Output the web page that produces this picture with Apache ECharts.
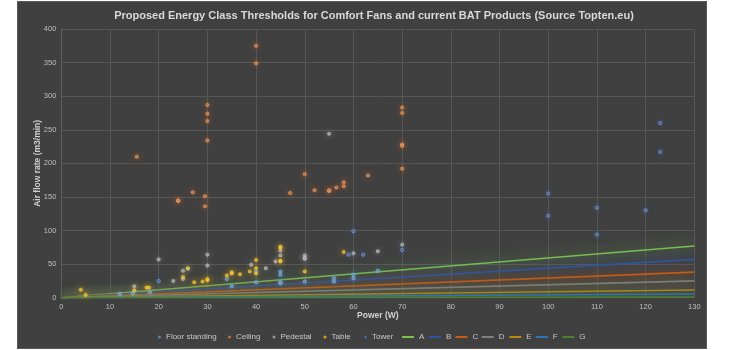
<!DOCTYPE html>
<html><head><meta charset="utf-8">
<script src="https://cdn.jsdelivr.net/npm/echarts@6/dist/echarts.min.js"></script>
<style>
html,body{margin:0;padding:0;background:#fff;width:730px;height:350px;overflow:hidden;}
#bg{position:absolute;left:17px;top:1px;width:688px;height:346px;background:#404040;border:1px solid #595959;}
#c{position:absolute;left:0;top:0;width:730px;height:350px;}
</style></head>
<body><div id="bg"></div><div id="c"></div>
<script>
var titleText = 'Proposed Energy Class Thresholds for Comfort Fans and current BAT Products (Source Topten.eu)';
var xName = 'Power (W)';
var yName = 'Air flow rate (m3/min)';
var xTicks = {min: 0, max: 130, step: 10};
var yTicks = {min: 0, max: 400, step: 50};

var floorStanding = [[12,5.5],[14.7,6.5],[18.2,8],[26,43],[34,28],[35,17],[40,39],[40,23],[45,39],[45,34],[45,22],[45,23],[50,24],[56,29],[56,24],[60,34],[60,29],[65,40]];
var ceiling = [[15.5,210],[24,144],[24,145],[27,157],[29.5,151],[29.5,136],[30,287],[30,274],[30,263],[30,234],[40,375],[40,349],[47,156],[50,184],[52,160],[55,159],[55,160],[56.5,164],[58,172],[58,166],[63,182],[70,283],[70,275],[70,228],[70,226],[70,192]];
var pedestal = [[15,17],[20,57],[23,25],[25,40],[25,28],[30,64],[30,48],[39,49],[42,44],[44,54],[45,70],[45,63],[50,63],[50,58],[50,59],[55,244],[60,66],[65,69],[70,79]];
var table = [[4,12],[5,4],[15,11],[17.5,15],[18,15],[25,31],[26,44],[27.3,23],[29,24],[30,26],[30,28],[34,33],[35,36],[35,38],[36.7,35],[38.7,39],[40,56],[40,44],[40,36],[45,76],[45,74],[45,55],[45,54],[50,39],[58,68]];
var tower = [[20,25],[59,64],[60,99],[62,64],[70,71],[100,155],[100,122],[110,134],[110,94],[120,130],[123,260],[123,217]];

var linePowers = [0, 130];
var lineA = [0, 77];
var lineB = [0, 57];
var lineC = [0, 38];
var lineD = [0, 25];
var lineE = [0, 11.5];
var lineF = [0, 5.5];
var lineG = [0, 1];

var scatterNames = ['Floor standing','Ceiling','Pedestal','Table','Tower'];
var scatterData = [floorStanding, ceiling, pedestal, table, tower];
var scatterColors = ['#5B9BD5','#ED7D31','#B0B0B0','#FFC000','#4472C4'];
var lineNames = ['A','B','C','D','E','F','G'];
var lineData = [lineA, lineB, lineC, lineD, lineE, lineF, lineG];
var lineColors = ['#7CC150','#2E54A0','#C55A11','#7F7F7F','#B8890A','#2E75B6','#4E7F2E'];

var FONT = '"Liberation Sans", Arial, sans-serif';
var series = [];
lineNames.forEach(function(n, i){
  series.push({
    name: n, type: 'line', symbol: 'none', silent: true,
    data: linePowers.map(function(p, k){ return [p, lineData[i][k]]; }),
    lineStyle: {color: lineColors[i], width: 1.6, shadowBlur: 14, shadowColor: lineColors[i]},
    itemStyle: {color: lineColors[i]}, z: 2
  });
});
scatterNames.forEach(function(n, i){
  series.push({
    name: n, type: 'scatter', symbol: 'circle', symbolSize: 3.5,
    data: scatterData[i],
    itemStyle: {color: scatterColors[i], borderColor: 'rgba(255,255,255,0.5)', borderWidth: 0.6, shadowBlur: 6, shadowColor: scatterColors[i]},
    z: 3
  });
});

var scatterLegendX = [158, 228, 272.5, 323.5, 364];
var lineLegendX = [402, 429, 455.5, 481.7, 509.3, 535.7, 562.3];
var legends = [];
scatterNames.forEach(function(n, i){
  legends.push({data: [{name: n, icon: 'circle', itemStyle: {shadowBlur: 0, borderWidth: 0}}], left: scatterLegendX[i], top: 333, padding: 0,
    itemWidth: 3, itemHeight: 3, textStyle: {color: '#c8c8c8', fontSize: 8, fontFamily: FONT}});
});
lineNames.forEach(function(n, i){
  legends.push({data: [{name: n, icon: 'rect'}], left: lineLegendX[i], top: 333, padding: 0,
    itemWidth: 12, itemHeight: 2, textStyle: {color: '#c8c8c8', fontSize: 8, fontFamily: FONT}});
});

var chart = echarts.init(document.getElementById('c'), null, {renderer: 'canvas'});
chart.setOption({
  backgroundColor: 'transparent',
  animation: false,
  title: {text: titleText, left: 374, top: 10, padding: 0, textAlign: 'center',
    textStyle: {color: '#d9d9d9', fontSize: 11, fontWeight: 'bold', fontFamily: FONT}},
  grid: {left: 61.3, right: 35.7, top: 29, bottom: 52.3},
  legend: legends,
  xAxis: {type: 'value', min: xTicks.min, max: xTicks.max, interval: xTicks.step,
    name: xName, nameLocation: 'middle', nameGap: 13, nameMoveOverlap: false,
    nameTextStyle: {color: '#d0d0d0', fontSize: 8.5, fontWeight: 'bold', fontFamily: FONT},
    axisLine: {lineStyle: {color: '#5e5e5e'}}, axisTick: {show: false},
    axisLabel: {color: '#bfbfbf', fontSize: 7.5, margin: 5, fontFamily: FONT},
    splitLine: {show: true, lineStyle: {color: '#575757'}}},
  yAxis: {type: 'value', min: yTicks.min, max: yTicks.max, interval: yTicks.step,
    name: yName, nameLocation: 'middle', nameGap: 19, nameMoveOverlap: false,
    nameTextStyle: {color: '#d0d0d0', fontSize: 8.5, fontWeight: 'bold', fontFamily: FONT},
    axisLine: {show: true, lineStyle: {color: '#5e5e5e'}}, axisTick: {show: false},
    axisLabel: {color: '#bfbfbf', fontSize: 7.5, margin: 5, fontFamily: FONT},
    splitLine: {show: true, lineStyle: {color: '#575757'}}},
  series: series
});
</script></body></html>
